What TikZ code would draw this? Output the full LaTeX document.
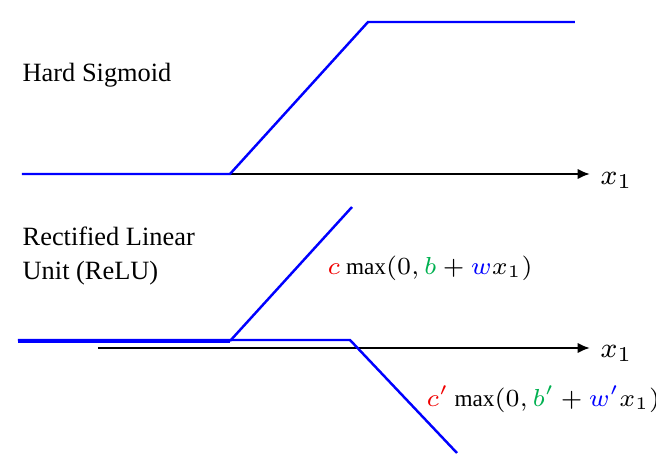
\documentclass[tikz,border=0pt]{standalone}
\usepackage{fontspec}
\setmainfont{Liberation Serif}
\usepackage{tikz}
\usetikzlibrary{arrows.meta}
\definecolor{cred}{RGB}{240,0,0}
\definecolor{cgreen}{RGB}{0,176,80}
\definecolor{cblue}{RGB}{0,0,255}
\tikzset{curve/.style={draw=cblue, line width=0.7pt},
  axis/.style={draw, line width=0.7pt, -{Latex[length=3.5pt,width=3pt]}},
  lbl/.style={font=\fontsize{7.5}{9.5}\selectfont, align=left, anchor=west, inner sep=0pt},
  formula/.style={lbl, font=\fontsize{6.6}{8}\selectfont}}
\begin{document}
\begin{tikzpicture}[x=0.01cm,y=-0.01cm]
  \useasboundingbox (0,0) rectangle (656,460);
  % hard sigmoid
  \node [lbl] (hs) at (22,75) {Hard Sigmoid};
  \coordinate (hs0) at (22,174);
  \coordinate (hs1) at (230,174);
  \coordinate (hs2) at (368,22);
  \coordinate (hs3) at (575,22);
  \coordinate (ax1s) at (98,174);
  \coordinate (ax1e) at (590,174);
  \node [lbl, font=\fontsize{8.5}{10}\selectfont] (x1a) at (600,180) {$x_1$};
  \path [axis] (ax1s) -- (ax1e);
  \path [curve] (hs0) -- (hs1) -- (hs2) -- (hs3);
  % relu
  \node [lbl] (relu) at (22,256) {Rectified Linear\\Unit (ReLU)};
  \coordinate (ax2s) at (98,348);
  \coordinate (ax2e) at (590,348);
  \node [lbl, font=\fontsize{8.5}{10}\selectfont] (x1b) at (600,353) {$x_1$};
  \path [axis] (ax2s) -- (ax2e);
  \coordinate (ra0) at (18,341);
  \coordinate (ra1) at (230,341);
  \coordinate (ra2) at (352,207);
  \coordinate (rb0) at (18,340);
  \coordinate (rb1) at (230,340);
  \coordinate (rb2) at (350,340);
  \coordinate (rb3) at (457,453);
  \path [curve, line width=1.2pt] (ra0) -- (ra1);
  \path [curve] (ra1) -- (ra2);
  \path [curve] (rb0) -- (rb1) -- (rb2) -- (rb3);
  \node [formula] (f1) at (327,268) {$\color{cred}c$ $\max(0,{\color{cgreen}b}+{\color{cblue}w}x_1)$};
  \node [formula] (f2) at (426,399) {$\color{cred}c'$ $\max(0,{\color{cgreen}b'}+{\color{cblue}w'}x_1)$};
\end{tikzpicture}
\end{document}
